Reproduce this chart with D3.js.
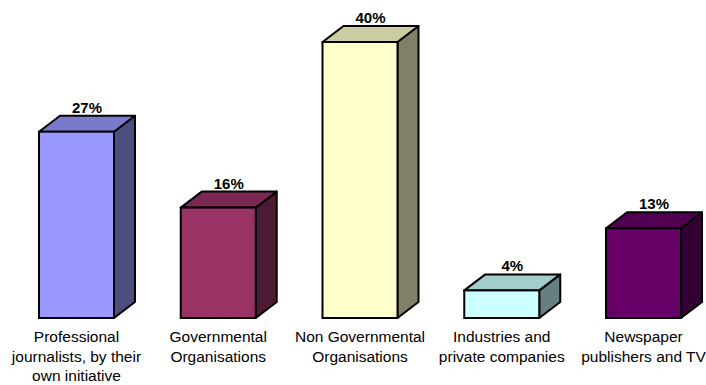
<!DOCTYPE html>
<html>
<head>
<meta charset="utf-8">
<script src="https://cdn.jsdelivr.net/npm/d3@7/dist/d3.min.js"></script>
<style>
  html, body { margin: 0; padding: 0; background: #fff; }
  svg { display: block; font-family: "Liberation Sans", Arial, sans-serif; }
</style>
</head>
<body>
<svg id="chart" width="706" height="385"></svg>
<script>
// Share of initiatives by source
const categories = [
  ["Professional", "journalists, by their", "own initiative"],
  ["Governmental", "Organisations"],
  ["Non Governmental", "Organisations"],
  ["Industries and", "private companies"],
  ["Newspaper", "publishers and TV"]
];
const values = [27, 16, 40, 4, 13];
const valueLabels = ["27%", "16%", "40%", "4%", "13%"];
const frontColors = ["#9999FF", "#993366", "#FFFFCC", "#CCFFFF", "#660066"];

const W = 706, H = 385;
const depthX = 21, depthY = 16;
const svg = d3.select("#chart");

const keys = categories.map((c, i) => "c" + i);
const x = d3.scaleBand()
  .domain(keys)
  .range([0, 720])
  .paddingInner(0.471)
  .paddingOuter(0.275);

const y = d3.scaleLinear().domain([0, 40]).range([318, 42]);

const shade = (c, k) => {
  const r = d3.rgb(c);
  return d3.rgb(r.r * k, r.g * k, r.b * k).formatHex();
};

const bars = svg.append("g").selectAll("g")
  .data(values.map((v, i) => ({ v, i, key: keys[i] })))
  .join("g");

bars.each(function (d) {
  const g = d3.select(this);
  const x0 = x(d.key), w = x.bandwidth();
  const yt = y(d.v), yb = y(0);
  const pts = p => p.map(q => q.join(",")).join(" ");
  // side face
  g.append("polygon")
    .attr("points", pts([[x0 + w, yt], [x0 + w + depthX, yt - depthY], [x0 + w + depthX, yb - depthY], [x0 + w, yb]]))
    .attr("fill", shade(frontColors[d.i], 0.5))
    .attr("stroke", "#000").attr("stroke-width", 2).attr("stroke-linejoin", "round");
  // top face
  g.append("polygon")
    .attr("points", pts([[x0, yt], [x0 + depthX, yt - depthY], [x0 + w + depthX, yt - depthY], [x0 + w, yt]]))
    .attr("fill", shade(frontColors[d.i], 0.8))
    .attr("stroke", "#000").attr("stroke-width", 2).attr("stroke-linejoin", "round");
  // front face
  g.append("rect")
    .attr("x", x0).attr("y", yt).attr("width", w).attr("height", yb - yt)
    .attr("fill", frontColors[d.i])
    .attr("stroke", "#000").attr("stroke-width", 2);
  // value label, centred over the whole block
  g.append("text")
    .attr("x", x0 + (w + depthX) / 2)
    .attr("y", yt - depthY - 3)
    .attr("text-anchor", "middle")
    .attr("font-size", 15).attr("font-weight", "bold")
    .text(valueLabels[d.i]);
  // category label, centred under the front face
  const cx = x0 + w / 2;
  const t = g.append("text")
    .attr("text-anchor", "middle")
    .attr("font-size", 15.5)
    .attr("fill", "#000");
  categories[d.i].forEach((line, j) => {
    t.append("tspan")
      .attr("x", cx)
      .attr("y", 342 + j * 19.5)
      .text(line);
  });
});
</script>
</body>
</html>
